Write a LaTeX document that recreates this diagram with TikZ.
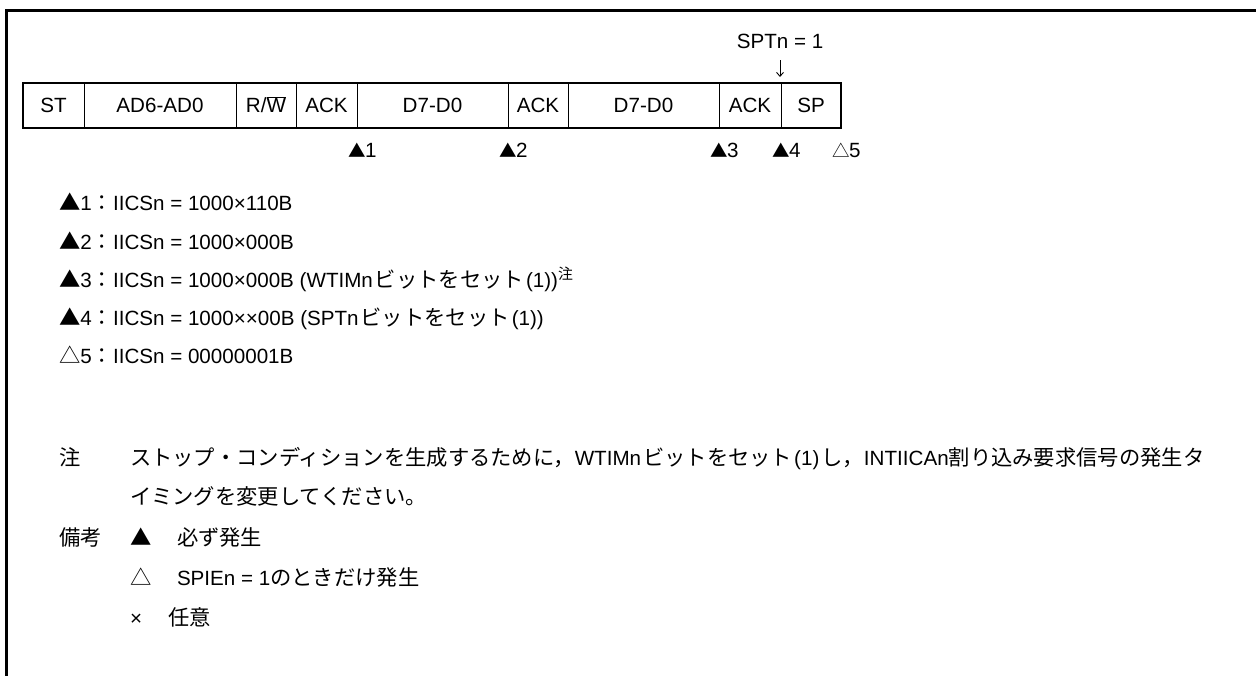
\documentclass[tikz,border=0pt]{standalone}
\usepackage{fontspec}
\setmainfont{Liberation Sans}
\newfontfamily\jpfont[Scale=1.034]{Noto Sans CJK JP}
\newfontfamily\trifont{Noto Sans CJK JP}
\usetikzlibrary{arrows.meta}
\newcommand\J[1]{{\jpfont #1}}
\newcommand\Tri[1]{{\trifont\fontsize{17.5}{20}\selectfont #1}}
\begin{document}
\begin{tikzpicture}[x=1pt,y=-1pt,
  every node/.style={inner sep=0pt, outer sep=0pt},
  txt/.style={font=\fontsize{20.6}{24}\selectfont, anchor=base west},
  cell/.style={draw, line width=1pt, minimum height=45pt, text height=14.7pt, text depth=0pt,
               font=\fontsize{20.6}{24}\selectfont, anchor=west},
  markerlbl/.style={font=\fontsize{20.6}{24}\selectfont, anchor=base west},
  frameline/.style={line width=3pt},
]
\useasboundingbox (0,0) rectangle (1256,675);
% frame
\draw[frameline] (6.5,680) -- (6.5,10.5) -- (1260,10.5);

% SPTn label and arrow
\node[txt, anchor=base] (spt) at (780,48) {SPTn = 1};
\coordinate (arrowend) at (780,77);
\draw[line width=0.9pt, shorten <=12pt, -{Straight Barb[length=4pt,width=7pt]}] (spt.south) -- (arrowend);

% frame cells
\node[cell, minimum width=61pt]  (st)   at (23,105.5)  {ST};
\node[cell, minimum width=152pt] (ad)   at (84,105.5)  {AD6-AD0};
\node[cell, minimum width=60pt]  (rw)   at (236,105.5) {R/$\overline{\hbox{W}}$};
\node[cell, minimum width=61pt]  (ack1) at (296,105.5) {ACK};
\node[cell, minimum width=151pt] (d1)   at (357,105.5) {D7-D0};
\node[cell, minimum width=60pt]  (ack2) at (508,105.5) {ACK};
\node[cell, minimum width=151pt] (d2)   at (568,105.5) {D7-D0};
\node[cell, minimum width=62pt]  (ack3) at (719,105.5) {ACK};
\node[cell, minimum width=60pt]  (sp)   at (781,105.5) {SP};
\draw[line width=2pt] (st.north west) rectangle (sp.south east);

% interrupt markers (triangle centred on the cell boundary)
\node[markerlbl] (m1) at (348.5,157) {\Tri{▲}\kern-1pt 1};
\node[markerlbl] (m2) at (499.5,157) {\Tri{▲}\kern-1pt 2};
\node[markerlbl] (m3) at (710.5,157) {\Tri{▲}\kern-1pt 3};
\node[markerlbl] (m4) at (772.5,157) {\Tri{▲}\kern-1pt 4};
\node[markerlbl] (m5) at (832.5,157) {\Tri{△}\kern-1pt 5};

% list
\node[txt] (l1) at (59,210.5) {\J{▲}1\J{：}IICSn = 1000×110B};
\node[txt] (l2) at (59,249) {\J{▲}2\J{：}IICSn = 1000×000B};
\node[txt] (l3) at (59,287) {\J{▲}3\J{：}IICSn = 1000×000B (WTIMn\hspace{2pt}\J{ビットをセット}\hspace{2pt}(1))\textsuperscript{\J{注}}};
\node[txt] (l4) at (59,325) {\J{▲}4\J{：}IICSn = 1000××00B (SPTn\hspace{2pt}\J{ビットをセット}\hspace{2pt}(1))};
\node[txt] (l5) at (59,363) {\J{△}5\J{：}IICSn = 00000001B};

% notes
\node[txt] (n0) at (59,465) {\J{注}};
\node[txt] (n1) at (130,465) {\J{ストップ・コンディションを生成するために，}WTIMn\hspace{2pt}\J{ビットをセット}\hspace{2pt}(1)\hspace{2pt}\J{し，}INTIICAn\J{割り込み要求信号の発生タ}};
\node[txt] (n2) at (130,504) {\J{イミングを変更してください。}};
\node[txt] (r0) at (59,545) {\J{備考}};
\node[txt] (r1) at (130,545) {\J{▲}};
\node[txt] (r1t) at (177,545) {\J{必ず発生}};
\node[txt] (r2) at (130,585) {\J{△}};
\node[txt] (r2t) at (177,585) {SPIEn = 1\J{のときだけ発生}};
\node[txt] (r3) at (130,625) {×};
\node[txt] (r3t) at (168,625) {\J{任意}};
\end{tikzpicture}
\end{document}
